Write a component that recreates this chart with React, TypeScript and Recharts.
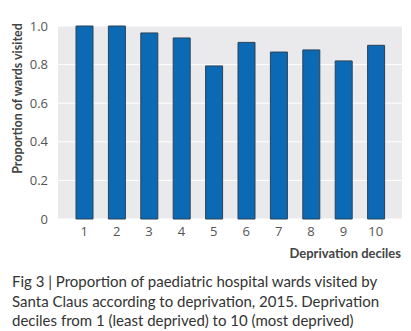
import { BarChart, Bar, XAxis, YAxis, CartesianGrid } from "recharts";

const deciles = ["1", "2", "3", "4", "5", "6", "7", "8", "9", "10"];
const proportionVisited = [1.0, 1.0, 0.964, 0.938, 0.793, 0.915, 0.865, 0.876, 0.819, 0.9];
const yTicks = [0, 0.2, 0.4, 0.6, 0.8, 1.0];

const data = deciles.map((d, i) => ({ decile: d, value: proportionVisited[i] }));

const FONT = "'Open Sans', 'DejaVu Sans', sans-serif";
const CAPTION_FONT = "Lato, 'Open Sans', sans-serif";

export default function App() {
  return (
    <div style={{ position: "absolute", left: 0, top: 0, width: 411, height: 331, background: "#fff", fontFamily: FONT }}>
      <BarChart width={411} height={240} data={data} margin={{ top: 26, right: 9, left: 0, bottom: 0 }}>
        <CartesianGrid vertical={false} fill="#eaeaed" stroke="#ffffff" strokeWidth={1} />
        <XAxis
          dataKey="decile"
          axisLine={false}
          tickLine={false}
          height={21}
          padding={{ left: 10, right: 10 }}
          tick={{ fill: "#555", fontSize: 13, fontFamily: FONT }}
          tickMargin={2}
        />
        <YAxis
          domain={[0, 1]}
          ticks={yTicks}
          tickFormatter={(v: number) => (v === 0 ? "0" : v.toFixed(1))}
          axisLine={false}
          tickLine={false}
          width={58}
          tick={{ fill: "#555", fontSize: 13, fontFamily: FONT }}
          tickMargin={4}
          label={{
            value: "Proportion of wards visited",
            angle: -90,
            position: "insideLeft",
            offset: 18,
            dy: -24,
            style: { textAnchor: "middle", fill: "#444", fontSize: 12.5, fontWeight: 700, fontFamily: CAPTION_FONT },
          }}
        />
        <Bar dataKey="value" fill="#0b6ab3" stroke="#2b4257" strokeWidth={1} barSize={17} isAnimationActive={false} />
      </BarChart>
      <div style={{ position: "absolute", right: 10, top: 245, fontSize: 13, fontWeight: 700, color: "#444", fontFamily: CAPTION_FONT }}>
        Deprivation deciles
      </div>
      <div style={{ position: "absolute", left: 12, top: 272, width: 399, fontSize: 15, lineHeight: "19.5px", color: "#333", fontFamily: CAPTION_FONT, whiteSpace: "nowrap" }}>
        Fig 3 | Proportion of paediatric hospital wards visited by
        <br />
        Santa Claus according to deprivation, 2015. Deprivation
        <br />
        deciles from 1 (least deprived) to 10 (most deprived)
      </div>
    </div>
  );
}
